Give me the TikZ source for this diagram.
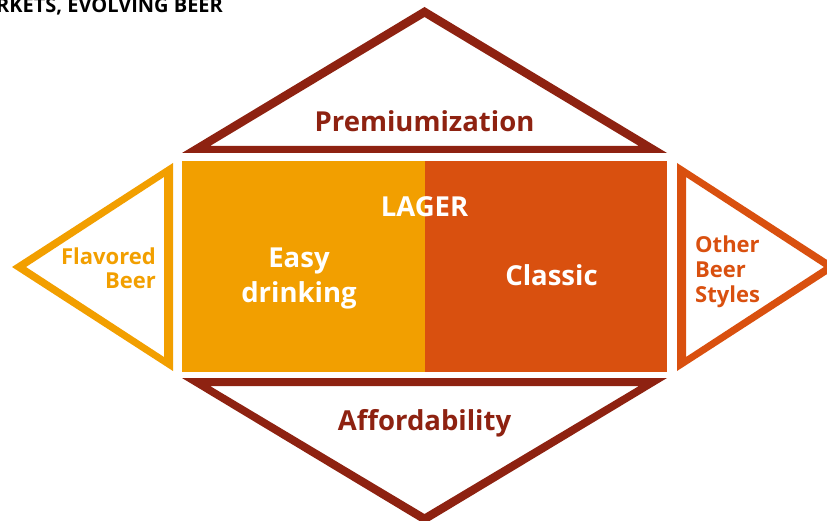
\documentclass[tikz,border=0pt]{standalone}
\usepackage{fontspec}
\setmainfont{Open Sans}
\definecolor{maroon}{HTML}{8E2211}
\definecolor{amber}{HTML}{F29F00}
\definecolor{rust}{HTML}{D9500F}
\tikzset{
  lbl/.style={font=\bfseries\fontsize{27.5}{30}\selectfont, anchor=base, inner sep=0pt},
  small/.style={font=\bfseries\fontsize{22}{24}\selectfont, inner sep=0pt},
}
\begin{document}
\begin{tikzpicture}[x=1pt,y=-1pt]
\useasboundingbox (0,0) rectangle (827,521);
\clip (0,0) rectangle (827,521);
% title fragment
\node[font=\bfseries\fontsize{20}{22}\selectfont, anchor=base west, inner sep=0pt] (title) at (-4,13) {RKETS, EVOLVING BEER};
% top triangle frame
\fill[maroon, even odd rule] (182,153) -- (667,153) -- (424.5,7) -- cycle
  (210,146) -- (639,146) -- (424.5,17) -- cycle;
% bottom triangle frame
\fill[maroon, even odd rule] (182,378) -- (667,378) -- (424.5,524) -- cycle
  (210,386) -- (639,386) -- (424.5,514) -- cycle;
% left triangle frame
\fill[amber, even odd rule] (173,163) -- (173,371) -- (12,267) -- cycle
  (164,177) -- (164,357) -- (26,267) -- cycle;
% right triangle frame
\fill[rust, even odd rule] (677,163) -- (677,371) -- (838,267) -- cycle
  (686,177) -- (686,357) -- (824,267) -- cycle;
% central rectangle
\fill[amber] (182,161) rectangle (424.5,372);
\fill[rust] (424.5,161) rectangle (667,372);
% labels
\node[lbl, maroon] (prem) at (424.5,132) {Premiumization};
\node[lbl, maroon] (aff) at (424.5,430) {Affordability};
\node[lbl, white] (lager) at (424.5,217) {LAGER};
\node[lbl, white] (easy) at (299,268) {Easy};
\node[lbl, white] (drink) at (299,302) {drinking};
\node[lbl, white] (classic) at (551.5,286) {Classic};
\node[small, amber, anchor=base east] (flav) at (156,265) {Flavored};
\node[small, amber, anchor=base east] (fbeer) at (156,289) {Beer};
\node[small, rust, anchor=base west] (other) at (695,253) {Other};
\node[small, rust, anchor=base west] (obeer) at (695,278) {Beer};
\node[small, rust, anchor=base west] (styles) at (695,302) {Styles};
\end{tikzpicture}
\end{document}
